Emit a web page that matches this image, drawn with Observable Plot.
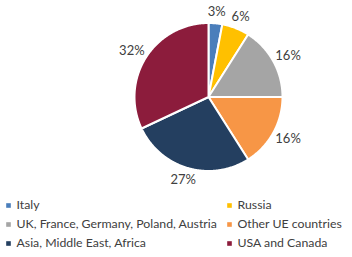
<!DOCTYPE html>
<html><head><meta charset="utf-8">
<script src="https://cdn.jsdelivr.net/npm/d3@7"></script>
<script src="https://cdn.jsdelivr.net/npm/@observablehq/plot@0.6"></script>
<style>body{margin:0;background:#fff}</style>
</head><body><div id="chart"></div>
<script>
const categories = ["Italy","Russia","UK, France, Germany, Poland, Austria","Other UE countries","Asia, Middle East, Africa","USA and Canada"];
const values = [3, 6, 16, 16, 27, 32];
const colors = ["#4A7EBB","#FFC000","#A5A5A5","#F79646","#243F60","#8C1C3C"];

const W = 352, H = 257;
const cx = 208, cy = 96.5, R = 74, gap = 6;
const total = d3.sum(values);

const poly = [];
const labels = [];
let acc = 0;
values.forEach((v, i) => {
  const a0 = acc / total * 2 * Math.PI;
  acc += v;
  const a1 = acc / total * 2 * Math.PI;
  poly.push({cat: categories[i], x: cx, y: cy});
  const n = Math.max(4, Math.ceil((a1 - a0) / 0.01));
  for (let k = 0; k <= n; k++) {
    const a = a0 + (a1 - a0) * k / n;
    poly.push({cat: categories[i], x: cx + R * Math.sin(a), y: cy - R * Math.cos(a)});
  }
  poly.push({cat: categories[i], x: cx, y: cy});
  const am = (a0 + a1) / 2;
  const txt = v + "%";
  const w = txt.length * 7.2, h = 12;
  const ux = Math.sin(am), uy = -Math.cos(am);
  labels.push({text: txt, x: cx + (R + gap) * ux + w / 2 * ux, y: cy + (R + gap) * uy + h / 2 * uy});
});

const legend = categories.map((c, i) => ({cat: c, col: i % 2, row: Math.floor(i / 2)}));
const legX = [8, 229], legTX = [16, 237], legY = [205, 224, 243];

const chart = Plot.plot({
  width: W, height: H,
  margin: 0,
  x: {domain: [0, W], range: [0, W], axis: null},
  y: {domain: [0, H], range: [0, H], axis: null},
  color: {domain: categories, range: colors},
  style: {fontFamily: "Lato, 'Open Sans', sans-serif", background: "#fff"},
  marks: [
    Plot.line(poly, {x: "x", y: "y", z: "cat", fill: "cat", stroke: "white", strokeWidth: 2, strokeLinejoin: "round", curve: "linear"}),
    Plot.text(labels, {x: "x", y: "y", text: "text", fontSize: 13, fill: "#404040"}),
    Plot.dot(legend, {x: d => legX[d.col], y: d => legY[d.row], symbol: "square", r: 2.6, fill: "cat", stroke: "none"}),
    Plot.text(legend, {x: d => legTX[d.col], y: d => legY[d.row], text: "cat", textAnchor: "start", fontSize: 12.3, fill: "#404040"})
  ]
});
document.getElementById("chart").append(chart);
</script>
</body></html>
